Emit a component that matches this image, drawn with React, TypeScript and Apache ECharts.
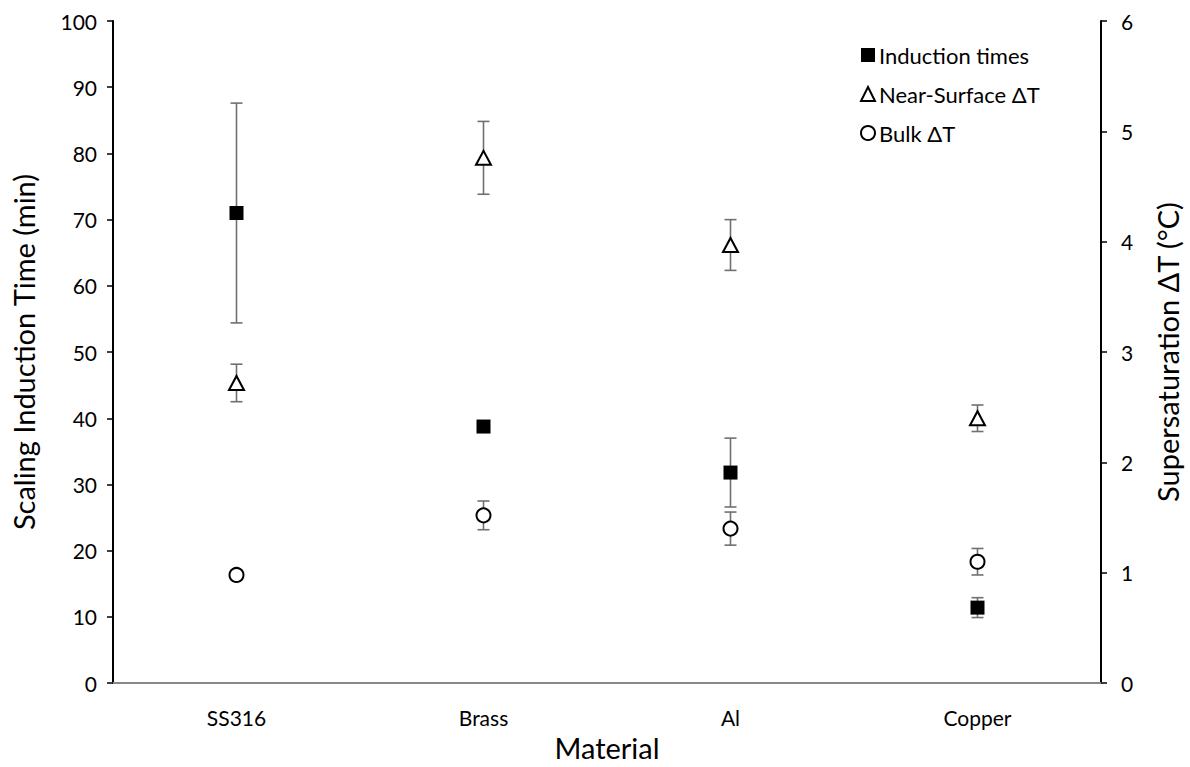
import React, { useEffect, useRef } from "react";
import * as echarts from "echarts";

// Materials tested
const categories = ["SS316", "Brass", "Al", "Copper"];

// Scaling induction time (min), left axis
const inductionTimes = [71.0, 38.75, 31.8, 11.4];
const inductionErr = [16.6, 0.8, 5.2, 1.5];

// Near-surface supersaturation ΔT (°C), right axis
const nearSurfaceDT = [2.72, 4.76, 3.97, 2.40];
const nearSurfaceErr = [0.17, 0.33, 0.23, 0.12];

// Bulk supersaturation ΔT (°C), right axis
const bulkDT = [0.98, 1.52, 1.40, 1.10];
const bulkErr = [0.04, 0.13, 0.15, 0.12];

// Left and right axis ticks
const leftTicks = { min: 0, max: 100, interval: 10 };
const rightTicks = { min: 0, max: 6, interval: 1 };

const FONT = "Lato, 'Liberation Sans', sans-serif";
const ERR_COLOR = "#707070";

function errorData(values: number[], errs: number[]) {
  return values.map((v, i) => [i, v - errs[i], v + errs[i]]);
}

function errorSeries(name: string, values: number[], errs: number[], yAxisIndex: number) {
  return {
    type: "custom",
    name,
    yAxisIndex,
    z: 1,
    silent: true,
    encode: { x: 0, y: [1, 2] },
    data: errorData(values, errs),
    renderItem: (params: any, api: any) => {
      const idx = api.value(0);
      const lo = api.coord([idx, api.value(1)]);
      const hi = api.coord([idx, api.value(2)]);
      const half = 6;
      const style = { stroke: ERR_COLOR, lineWidth: 1.6 };
      return {
        type: "group",
        children: [
          { type: "line", shape: { x1: hi[0], y1: hi[1], x2: lo[0], y2: lo[1] }, style },
          { type: "line", shape: { x1: hi[0] - half, y1: hi[1], x2: hi[0] + half, y2: hi[1] }, style },
          { type: "line", shape: { x1: lo[0] - half, y1: lo[1], x2: lo[0] + half, y2: lo[1] }, style },
        ],
      };
    },
  };
}

export default function App() {
  const ref = useRef<HTMLDivElement>(null);

  useEffect(() => {
    if (!ref.current) return;
    const chart = echarts.init(ref.current, undefined, { renderer: "svg" });

    const axisLabelStyle = { color: "#000", fontSize: 21, fontFamily: FONT };
    const axisNameStyle = { color: "#000", fontSize: 29, fontFamily: FONT };

    chart.setOption({
      animation: false,
      backgroundColor: "#fff",
      grid: { left: 113, right: 89, top: 21, bottom: 82, containLabel: false },
      legend: {
        orient: "vertical",
        left: 855,
        top: 39,
        itemWidth: 14,
        itemHeight: 14,
        itemGap: 17,
        data: ["Induction times", "Near-Surface ΔT", "Bulk ΔT"],
        textStyle: { color: "#000", fontSize: 22, fontFamily: FONT, padding: [0, 0, 0, -1] },
      },
      xAxis: [
        {
          type: "category",
          data: categories,
          boundaryGap: true,
          name: "Material",
          nameLocation: "middle",
          nameGap: 42,
          nameTextStyle: axisNameStyle,
          axisLine: { lineStyle: { color: "#000", width: 2 } },
          axisTick: { alignWithLabel: true, length: 5, lineStyle: { color: "#000", width: 1.5 } },
          axisLabel: { ...axisLabelStyle, margin: 24 },
          splitLine: { show: false },
        },
        {
          type: "category",
          data: categories,
          position: "top",
          axisLine: { lineStyle: { color: "#888", width: 2 } },
          axisTick: { show: false },
          axisLabel: { show: false },
          splitLine: { show: false },
        },
      ],
      yAxis: [
        {
          type: "value",
          ...leftTicks,
          position: "left",
          name: "Scaling Induction Time (min)",
          nameLocation: "middle",
          nameGap: 75,
          nameTextStyle: axisNameStyle,
          axisLine: { show: true, lineStyle: { color: "#000", width: 2 } },
          axisTick: { show: true, length: 6, lineStyle: { color: "#000", width: 1.5 } },
          axisLabel: { ...axisLabelStyle, margin: 16 },
          splitLine: { show: false },
        },
        {
          type: "value",
          ...rightTicks,
          position: "right",
          name: "Supersaturation ΔT (°C)",
          nameLocation: "middle",
          nameRotate: 90,
          nameGap: 52,
          nameTextStyle: axisNameStyle,
          axisLine: { show: true, lineStyle: { color: "#000", width: 2 } },
          axisTick: { show: true, length: 6, lineStyle: { color: "#000", width: 1.5 } },
          axisLabel: { ...axisLabelStyle, margin: 20 },
          splitLine: { show: false },
        },
      ],
      series: [
        errorSeries("inductionErr", inductionTimes, inductionErr, 0),
        errorSeries("nearSurfaceErr", nearSurfaceDT, nearSurfaceErr, 1),
        errorSeries("bulkErr", bulkDT, bulkErr, 1),
        {
          type: "scatter",
          name: "Induction times",
          yAxisIndex: 0,
          z: 3,
          symbol: "rect",
          symbolSize: 14,
          itemStyle: { color: "#000", borderColor: "#000", borderWidth: 0, opacity: 1 },
          data: inductionTimes,
        },
        {
          type: "scatter",
          name: "Near-Surface ΔT",
          yAxisIndex: 1,
          z: 3,
          symbol: "triangle",
          symbolSize: [15, 14],
          itemStyle: { color: "#fff", borderColor: "#000", borderWidth: 2, opacity: 1 },
          data: nearSurfaceDT,
        },
        {
          type: "scatter",
          name: "Bulk ΔT",
          yAxisIndex: 1,
          z: 3,
          symbol: "circle",
          symbolSize: 14,
          itemStyle: { color: "#fff", borderColor: "#000", borderWidth: 2, opacity: 1 },
          data: bulkDT,
        },
      ],
    });

    return () => chart.dispose();
  }, []);

  return (
    <div
      ref={ref}
      style={{ position: "fixed", left: 0, top: 0, width: 1190, height: 767, background: "#fff" }}
    />
  );
}
